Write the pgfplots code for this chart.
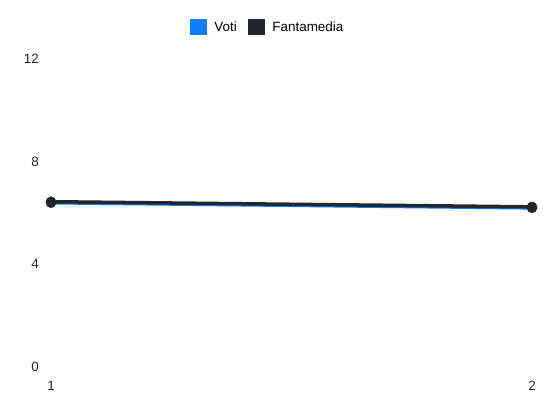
\documentclass[border=0pt]{standalone}
\usepackage{pgfplots}
\pgfplotsset{compat=1.18}
\usepackage{fontspec}
\setmainfont{Liberation Sans}

\definecolor{voti}{HTML}{0A7CFF}
\definecolor{fanta}{HTML}{23272B}

\begin{document}
\begin{tikzpicture}[x=1bp,y=1bp]
\useasboundingbox (0,0) rectangle (550,412);
\begin{axis}[
  at={(51bp,45bp)}, anchor=south west,
  scale only axis,
  width=481bp, height=308bp,
  xmin=1, xmax=2,
  ymin=0, ymax=12,
  xtick={1,2},
  ytick={0,4,8,12},
  axis line style={draw=none},
  major tick length=0pt,
  clip=false,
  /pgf/number format/assume math mode=true,
  tick label style={font=\fontsize{13.5}{16}\selectfont, text=black!85},
  yticklabel style={anchor=east, inner sep=0pt, xshift=-12bp},
  xticklabel style={anchor=north, inner sep=0pt, yshift=-14bp},
  legend style={draw=none, fill=none, at={(0.451,1.104)}, anchor=center,
    legend columns=2, font=\fontsize{13.5}{16}\selectfont,
    /tikz/every odd column/.append style={column sep=5.5bp},
    /tikz/every even column/.append style={column sep=9.5bp},
    legend cell align=left},
]
\addplot [line width=3.5bp, color=voti, mark=*, mark size=5bp,
  mark options={fill=fanta, draw=fanta, line width=0.5bp},
  legend image code/.code={\fill[voti] (0bp,-6.5bp) rectangle (13bp,6.5bp);}]
coordinates {(1,6.40) (2,6.20)};
\addlegendentry{Voti}
\addplot [line width=3.5bp, color=fanta, mark=*, mark size=5bp,
  mark options={line width=0.5bp},
  legend image code/.code={\fill[fanta] (0bp,-6.5bp) rectangle (13bp,6.5bp);}]
coordinates {(1,6.44) (2,6.24)};
\addlegendentry{Fantamedia}
\end{axis}
\end{tikzpicture}
\end{document}
